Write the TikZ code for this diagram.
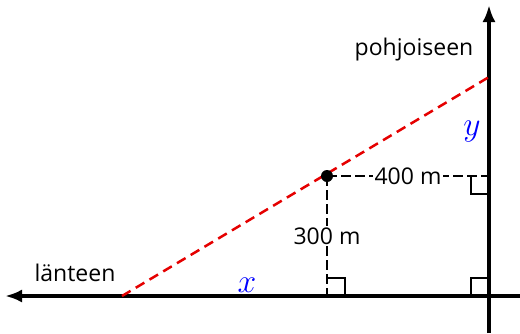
\documentclass[tikz,border=0pt]{standalone}
\usepackage{fontspec}
\setmainfont{Open Sans}
\usetikzlibrary{arrows.meta}
\begin{document}
\begin{tikzpicture}[x=1pt,y=-1pt,
  axis/.style={line width=3.5pt,-{Latex[length=17pt,width=13pt]}},
  guide/.style={line width=2.5pt,dash pattern=on 10pt off 4pt},
  redline/.style={line width=2.5pt,red!90!black,dash pattern=on 10pt off 6pt},
  rightangle/.style={line width=2.5pt},
  lbl/.style={font=\fontsize{23}{26}\selectfont,inner sep=1pt},
  meas/.style={font=\fontsize{23}{26}\selectfont,fill=white,inner sep=2pt},
  var/.style={font=\fontsize{24}{26}\selectfont,text=blue,inner sep=0pt,scale=1.35}]
\useasboundingbox (0,0) rectangle (520,333);
\coordinate (O) at (489,296);
\coordinate (E) at (520,296);
\coordinate (W) at (5,296);
\coordinate (S) at (489,333);
\coordinate (N) at (489,5);
\coordinate (A) at (122,296);
\coordinate (B) at (489,77);
\coordinate (P) at (327,176);
\coordinate (Px) at (327,296);
\coordinate (Py) at (489,176);
\draw[axis] (E) -- (W);
\draw[axis] (S) -- (N);
\draw[redline] (A) -- (B);
\draw[guide] (P) -- (Px) node[meas,midway] (l300) {300 m};
\draw[guide] (P) -- (Py) node[meas,midway] (l400) {400 m};
\fill (P) circle (6pt);
\draw[rightangle] (327,278) -- (345,278) -- (345,296);
\draw[rightangle] (471,296) -- (471,278) -- (489,278);
\draw[rightangle] (471,176) -- (471,194) -- (489,194);
\node[lbl] (north) at (414,50) {pohjoiseen};
\node[lbl] (west) at (75,273) {länteen};
\node[var,anchor=base] (xl) at (247,292) {$x$};
\node[var,anchor=base] (yl) at (472,135) {$y$};
\end{tikzpicture}
\end{document}
